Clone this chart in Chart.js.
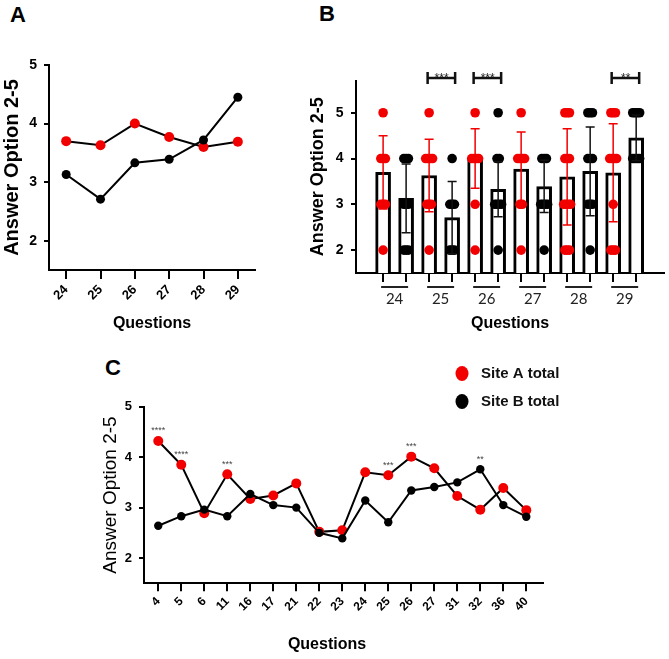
<!DOCTYPE html>
<html>
<head>
<meta charset="utf-8">
<script src="https://cdn.jsdelivr.net/npm/chart.js@4/dist/chart.umd.min.js"></script>
<style>
  body { margin: 0; background: #fff; width: 669px; height: 659px; position: relative; overflow: hidden; font-family: "Liberation Sans", Arial, sans-serif; }
  canvas { position: absolute; }
  .tag { position: absolute; font-weight: bold; font-size: 22px; line-height: 1; transform: translate(-50%, -50%); color: #000; }
</style>
</head>
<body>
<div class="tag" style="left:18px;top:15px">A</div>
<div class="tag" style="left:327px;top:14px">B</div>
<div class="tag" style="left:113px;top:368px">C</div>
<canvas id="chartA" width="265" height="340" style="left:0;top:0"></canvas>
<canvas id="chartB" width="404" height="340" style="left:265px;top:0"></canvas>
<canvas id="chartC" width="669" height="319" style="left:0;top:340px"></canvas>
<script>
// panels A and B: questions 24-29
const questionsAB = ['24', '25', '26', '27', '28', '29'];
const meanSiteA = [3.70, 3.63, 4.00, 3.77, 3.60, 3.69];
const meanSiteB = [3.13, 2.71, 3.33, 3.39, 3.72, 4.45];
const sdSiteA = [0.80, 0.79, 0.65, 0.81, 1.05, 1.07];
const sdSiteB = [0.75, 0.79, 0.60, 0.57, 0.97, 0.50];
const sigB = [null, '***', '***', null, null, '**'];

// individual answers in B: how many dots side by side at answer 2, 3, 4, 5
const answerLevels = [2, 3, 4, 5];
const dotsSiteA = [[1, 3, 3, 1], [1, 3, 4, 1], [1, 1, 4, 1], [1, 2, 4, 1], [3, 4, 3, 3], [3, 1, 4, 3]];
const dotsSiteB = [[3, 3, 3, 0], [3, 3, 1, 0], [1, 4, 2, 1], [1, 4, 3, 0], [1, 3, 3, 3], [0, 0, 4, 4]];

// panel C: all questions
const questionsC = ['4', '5', '6', '11', '16', '17', '21', '22', '23', '24', '25', '26', '27', '31', '32', '36', '40'];
const totalSiteA = [4.32, 3.85, 2.89, 3.66, 3.17, 3.24, 3.48, 2.52, 2.55, 3.70, 3.64, 4.01, 3.78, 3.23, 2.96, 3.39, 2.95];
const totalSiteB = [2.64, 2.83, 2.96, 2.83, 3.27, 3.05, 3.00, 2.50, 2.39, 3.14, 2.71, 3.34, 3.41, 3.50, 3.76, 3.05, 2.82];
const sigC = ['****', '****', '', '***', '', '', '', '', '', '', '***', '***', '', '', '**', '', ''];

const yTicks = [2, 3, 4, 5];

const black = '#000';
const red = '#f20000';
const sans = 'Liberation Sans';
const setTicks = values => scale => { scale.ticks = values.map(v => ({ value: v })); };
const noPlugins = { legend: { display: false }, tooltip: { enabled: false } };

// ---------- A ----------
new Chart(document.getElementById('chartA'), {
  type: 'line',
  data: {
    labels: questionsAB,
    datasets: [
      { label: 'Site A total', data: meanSiteA, borderColor: black, borderWidth: 2, pointRadius: 5,
        pointBackgroundColor: red, pointBorderColor: red, pointBorderWidth: 0, order: 2 },
      { label: 'Site B total', data: meanSiteB, borderColor: black, borderWidth: 2, pointRadius: 4.5,
        pointBackgroundColor: black, pointBorderColor: black, pointBorderWidth: 0, order: 1 }
    ]
  },
  options: {
    responsive: false, animation: false, events: [],
    layout: { padding: { left: 0, top: 65, right: 10, bottom: 0 } },
    plugins: noPlugins,
    scales: {
      x: {
        offset: true,
        grid: { offset: false, drawOnChartArea: false, color: black, lineWidth: 2, tickLength: 9 },
        border: { color: black, width: 2 },
        ticks: { color: black, font: { family: sans, weight: 'bold', size: 13 }, minRotation: 45, maxRotation: 45, padding: 3 },
        title: { display: true, text: 'Questions', color: black, font: { family: sans, weight: 'bold', size: 16 }, padding: { top: 0, bottom: 7 } },
        afterFit: s => { s.height = 70; }
      },
      y: {
        min: 1.5, max: 5,
        afterBuildTicks: setTicks(yTicks),
        grid: { drawOnChartArea: false, color: black, lineWidth: 2, tickLength: 5 },
        border: { color: black, width: 2 },
        ticks: { color: black, font: { family: sans, weight: 'bold', size: 14 }, padding: 7 },
        title: { display: true, text: 'Answer Option 2-5', color: black, font: { family: sans, weight: 'bold', size: 20 }, padding: 0 },
        afterFit: s => { s.width = 49; }
      }
    }
  }
});

// ---------- B ----------
const dotStep = 0.1;
function dotPoints(counts, side) {
  const pts = [];
  counts.forEach((row, q) => row.forEach((n, k) => {
    for (let j = 0; j < n; j++) {
      pts.push({ x: 2 * q + side + (j - (n - 1) / 2) * dotStep, y: answerLevels[k] });
    }
  }));
  return pts;
}

const barStyle = { backgroundColor: '#fff', borderColor: black, borderWidth: 3, borderSkipped: false, barThickness: 15, grouped: false, order: 3 };

const bDecor = {
  id: 'bDecor',
  afterDatasetsDraw(chart) {
    const { ctx, scales: { x, y } } = chart;
    ctx.save();
    ctx.lineWidth = 1.5;
    questionsAB.forEach((q, i) => {
      [[meanSiteA, sdSiteA, red, 0], [meanSiteB, sdSiteB, '#111', 1]].forEach(([m, sd, col, side]) => {
        const px = x.getPixelForValue(2 * i + side);
        const top = y.getPixelForValue(m[i] + sd[i]);
        const bot = y.getPixelForValue(m[i] - sd[i]);
        ctx.strokeStyle = col;
        ctx.beginPath();
        ctx.moveTo(px, top); ctx.lineTo(px, bot);
        ctx.moveTo(px - 4.5, top); ctx.lineTo(px + 4.5, top);
        ctx.moveTo(px - 4.5, bot); ctx.lineTo(px + 4.5, bot);
        ctx.stroke();
      });
    });
    ctx.restore();
  },
  afterDraw(chart) {
    const { ctx, chartArea, scales: { x, y } } = chart;
    ctx.save();
    questionsAB.forEach((q, i) => {
      const a = x.getPixelForValue(2 * i);
      const b = x.getPixelForValue(2 * i + 1);
      // group underline and label
      ctx.strokeStyle = '#222';
      ctx.lineWidth = 2;
      ctx.beginPath();
      ctx.moveTo(a - 2, chartArea.bottom + 14);
      ctx.lineTo(b + 2, chartArea.bottom + 14);
      ctx.stroke();
      ctx.fillStyle = '#222';
      ctx.font = '15px Lato';
      ctx.textAlign = 'center';
      ctx.textBaseline = 'middle';
      ctx.fillText(q, (a + b) / 2, chartArea.bottom + 26);
      // significance bracket
      if (sigB[i]) {
        const yb = y.getPixelForValue(5.76);
        ctx.strokeStyle = '#111';
        ctx.lineWidth = 2.5;
        ctx.beginPath();
        ctx.moveTo(a - 1.5, yb); ctx.lineTo(b + 3, yb);
        ctx.moveTo(a - 1.5, yb - 6); ctx.lineTo(a - 1.5, yb + 6);
        ctx.moveTo(b + 3, yb - 6); ctx.lineTo(b + 3, yb + 6);
        ctx.stroke();
        ctx.fillStyle = '#222';
        ctx.font = '12px ' + sans;
        ctx.textBaseline = 'alphabetic';
        ctx.fillText(sigB[i], (a + b) / 2 + 1, yb + 4);
      }
    });
    ctx.restore();
  }
};

new Chart(document.getElementById('chartB'), {
  type: 'bar',
  data: {
    datasets: [
      { label: 'Site A', data: meanSiteA.map((v, i) => ({ x: 2 * i, y: v })), ...barStyle },
      { label: 'Site B', data: meanSiteB.map((v, i) => ({ x: 2 * i + 1, y: v })), ...barStyle },
      { type: 'line', label: 'Site A answers', data: dotPoints(dotsSiteA, 0), showLine: false, pointRadius: 4.8,
        pointBackgroundColor: red, pointBorderWidth: 0, order: 1 },
      { type: 'line', label: 'Site B answers', data: dotPoints(dotsSiteB, 1), showLine: false, pointRadius: 4.8,
        pointBackgroundColor: black, pointBorderWidth: 0, order: 1 }
    ]
  },
  options: {
    responsive: false, animation: false, events: [],
    layout: { padding: { left: 42.5, top: 80.7, right: 4, bottom: 0 } },
    plugins: noPlugins,
    scales: {
      x: {
        type: 'linear', min: -0.62, max: 11.66,
        afterBuildTicks: setTicks(meanSiteA.flatMap((v, i) => [2 * i, 2 * i + 1])),
        grid: { offset: false, drawOnChartArea: false, color: black, lineWidth: 2, tickLength: 9 },
        border: { color: black, width: 2 },
        ticks: { display: false },
        title: { display: true, text: 'Questions', color: black, font: { family: sans, weight: 'bold', size: 16 }, padding: { top: 0, bottom: 7 } },
        afterFit: s => { s.height = 67; }
      },
      y: {
        min: 1.5, max: 5.7,
        afterBuildTicks: setTicks(yTicks),
        grid: { drawOnChartArea: false, color: black, lineWidth: 2, tickLength: 5 },
        border: { color: black, width: 2 },
        ticks: { color: black, font: { family: sans, weight: 'bold', size: 14 }, padding: 7.5 },
        title: { display: true, text: 'Answer Option 2-5', color: black, font: { family: sans, weight: 'bold', size: 18 }, padding: 0 },
        afterFit: s => { s.width = 48.5; }
      }
    }
  },
  plugins: [bDecor]
});

// ---------- C ----------
const cDecor = {
  id: 'cDecor',
  afterDraw(chart) {
    const { ctx, scales: { x, y } } = chart;
    ctx.save();
    // significance stars above each question
    ctx.fillStyle = '#444';
    ctx.font = '9px ' + sans;
    ctx.textAlign = 'center';
    ctx.textBaseline = 'middle';
    sigC.forEach((s, i) => {
      if (!s) return;
      const top = y.getPixelForValue(Math.max(totalSiteA[i], totalSiteB[i]));
      ctx.fillText(s, x.getPixelForValue(i), top - 10);
    });
    // axis caption
    ctx.fillStyle = black;
    ctx.font = 'bold 16px ' + sans;
    ctx.fillText('Questions', 327, 305);
    // legend
    chart.data.datasets.forEach((ds, k) => {
      const cy = 33.5 + k * 28;
      ctx.fillStyle = ds.pointBackgroundColor;
      ctx.beginPath();
      ctx.ellipse(462, cy, 6.5, 7.5, 0, 0, Math.PI * 2);
      ctx.fill();
      ctx.fillStyle = '#111';
      ctx.font = 'bold 15px ' + sans;
      ctx.textAlign = 'left';
      ctx.fillText(ds.label, 481, cy);
    });
    ctx.restore();
  }
};

new Chart(document.getElementById('chartC'), {
  type: 'line',
  data: {
    datasets: [
      { label: 'Site A total', data: totalSiteA.map((v, i) => ({ x: i, y: v })), borderColor: black, borderWidth: 2, pointRadius: 5,
        pointBackgroundColor: red, pointBorderColor: red, pointBorderWidth: 0, order: 2 },
      { label: 'Site B total', data: totalSiteB.map((v, i) => ({ x: i, y: v })), borderColor: black, borderWidth: 2, pointRadius: 4.2,
        pointBackgroundColor: black, pointBorderColor: black, pointBorderWidth: 0, order: 1 }
    ]
  },
  options: {
    responsive: false, animation: false, events: [],
    layout: { padding: { left: 99, top: 66.7, right: 125.7, bottom: 0 } },
    plugins: noPlugins,
    scales: {
      x: {
        type: 'linear', min: -0.62, max: 16.74,
        afterBuildTicks: setTicks(questionsC.map((q, i) => i)),
        grid: { offset: false, drawOnChartArea: false, color: black, lineWidth: 2, tickLength: 8 },
        border: { color: black, width: 2 },
        ticks: { color: black, font: { family: sans, weight: 'bold', size: 12 }, minRotation: 45, maxRotation: 45, padding: 3,
          callback: v => questionsC[v] },
        afterFit: s => { s.height = 75.7; }
      },
      y: {
        min: 1.5, max: 5,
        afterBuildTicks: setTicks(yTicks),
        grid: { drawOnChartArea: false, color: black, lineWidth: 2, tickLength: 5 },
        border: { color: black, width: 2 },
        ticks: { color: black, font: { family: sans, weight: 'bold', size: 13 }, padding: 7 },
        title: { display: true, text: 'Answer Option 2-5', color: black, font: { family: sans, size: 19 }, padding: 0 },
        afterFit: s => { s.width = 45; }
      }
    }
  },
  plugins: [cDecor]
});
</script>
</body>
</html>
